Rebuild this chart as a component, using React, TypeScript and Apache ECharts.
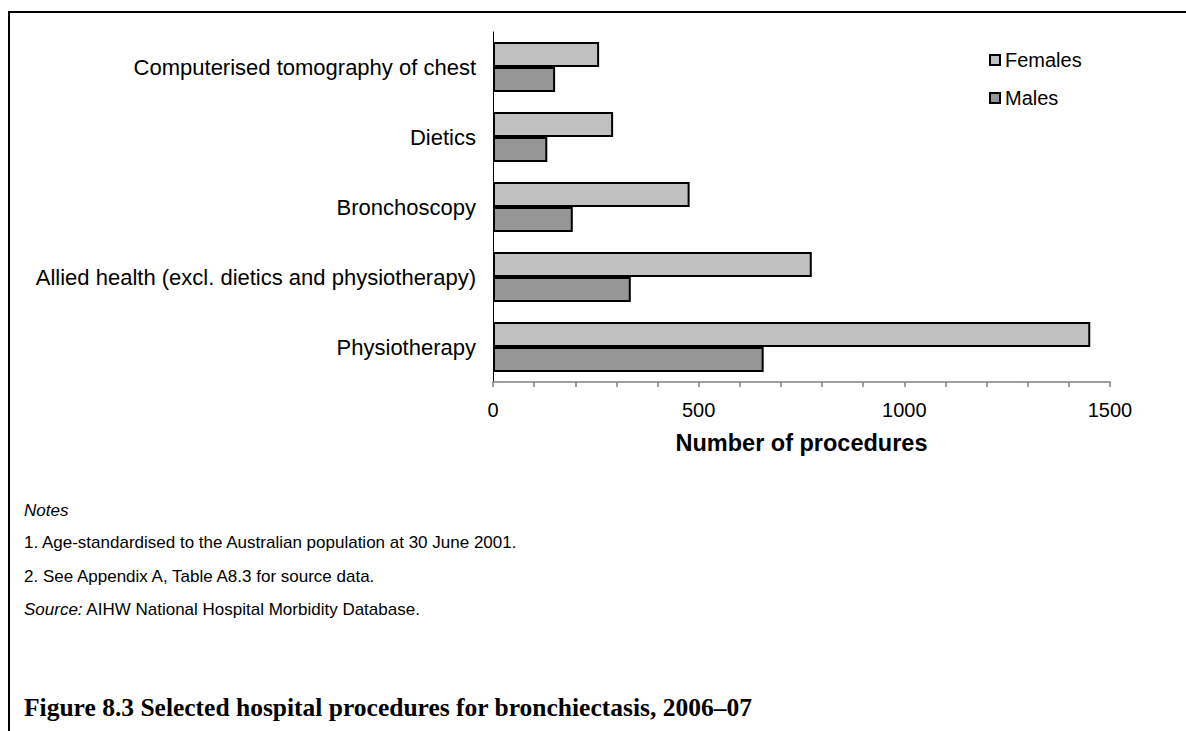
import React, { useEffect, useRef } from "react";
import * as echarts from "echarts";

const categories = [
  "Computerised tomography of chest",
  "Dietics",
  "Bronchoscopy",
  "Allied health (excl. dietics and physiotherapy)",
  "Physiotherapy",
];
const females = [258, 292, 478, 775, 1452];
const males = [151, 132, 194, 335, 658];
const seriesNames = ["Females", "Males"];
const axisTitle = "Number of procedures";
const noteLines = [
  "1. Age-standardised to the Australian population at 30 June 2001.",
  "2. See Appendix A, Table A8.3 for source data.",
];
const sourceText = "AIHW National Hospital Morbidity Database.";
const figureTitle = "Figure 8.3 Selected hospital procedures for bronchiectasis, 2006\u201307";

const SANS = "'Liberation Sans', Arial, sans-serif";
const SERIF = "'Liberation Serif', 'Times New Roman', serif";

export default function App() {
  const ref = useRef<HTMLDivElement>(null);
  useEffect(() => {
    document.body.style.margin = "0";
    const chart = echarts.init(ref.current!, null, { renderer: "svg" });
    chart.setOption({
      animation: false,
      backgroundColor: "#ffffff",
      grid: { left: 493, top: 32, width: 617, height: 350, containLabel: false },
      legend: {
        orient: "vertical",
        left: 984,
        top: 45,
        itemWidth: 10,
        itemHeight: 10,
        itemGap: 18,
        icon: "rect",
        textStyle: { fontFamily: SANS, fontSize: 20, color: "#000" },
        data: seriesNames,
      },
      xAxis: {
        type: "value",
        min: 0,
        max: 1500,
        interval: 100,
        splitLine: { show: false },
        axisLine: { show: true, lineStyle: { color: "#808080", width: 1.5 } },
        axisTick: { show: true, length: 5, lineStyle: { color: "#808080", width: 1.5 } },
        axisLabel: {
          margin: 18,
          fontFamily: SANS,
          fontSize: 20,
          color: "#000",
          formatter: (v: number) => (v % 500 === 0 ? String(v) : ""),
        },
        name: axisTitle,
        nameLocation: "middle",
        nameGap: 49,
        nameTextStyle: { fontFamily: SANS, fontSize: 23.5, fontWeight: "bold", color: "#000" },
      },
      yAxis: {
        type: "category",
        inverse: true,
        data: categories,
        axisLine: { show: true, lineStyle: { color: "#000", width: 1 } },
        axisTick: { show: false },
        axisLabel: { margin: 17, fontFamily: SANS, fontSize: 22, color: "#000" },
      },
      series: [
        {
          name: seriesNames[0],
          type: "bar",
          data: females,
          barGap: "0%",
          barCategoryGap: "28.6%",
          itemStyle: { color: "#C0C0C0", borderColor: "#000", borderWidth: 2 },
        },
        {
          name: seriesNames[1],
          type: "bar",
          data: males,
          barGap: "0%",
          barCategoryGap: "28.6%",
          itemStyle: { color: "#969696", borderColor: "#000", borderWidth: 2 },
        },
      ],
      graphic: [
        { type: "line", shape: { x1: 8, y1: 12, x2: 1186, y2: 12 }, style: { stroke: "#000", lineWidth: 2 } },
        { type: "line", shape: { x1: 9, y1: 11, x2: 9, y2: 731 }, style: { stroke: "#000", lineWidth: 2 } },
        {
          type: "text",
          left: 24,
          top: 502,
          style: { text: "Notes", font: `italic 17px ${SANS}`, fill: "#000" },
        },
        {
          type: "text",
          left: 24,
          top: 534,
          style: { text: noteLines[0], font: `17px ${SANS}`, fill: "#000" },
        },
        {
          type: "text",
          left: 24,
          top: 568,
          style: { text: noteLines[1], font: `17px ${SANS}`, fill: "#000" },
        },
        {
          type: "text",
          left: 24,
          top: 601,
          style: {
            text: "{i|Source:} " + sourceText,
            font: `17px ${SANS}`,
            fill: "#000",
            rich: { i: { fontStyle: "italic", fontSize: 17, fontFamily: SANS } },
          },
        },
        {
          type: "text",
          left: 24,
          top: 694,
          style: { text: figureTitle, font: `bold 25.5px ${SERIF}`, fill: "#000" },
        },
      ],
    });
    return () => chart.dispose();
  }, []);
  return <div ref={ref} style={{ width: 1186, height: 731 }} />;
}
